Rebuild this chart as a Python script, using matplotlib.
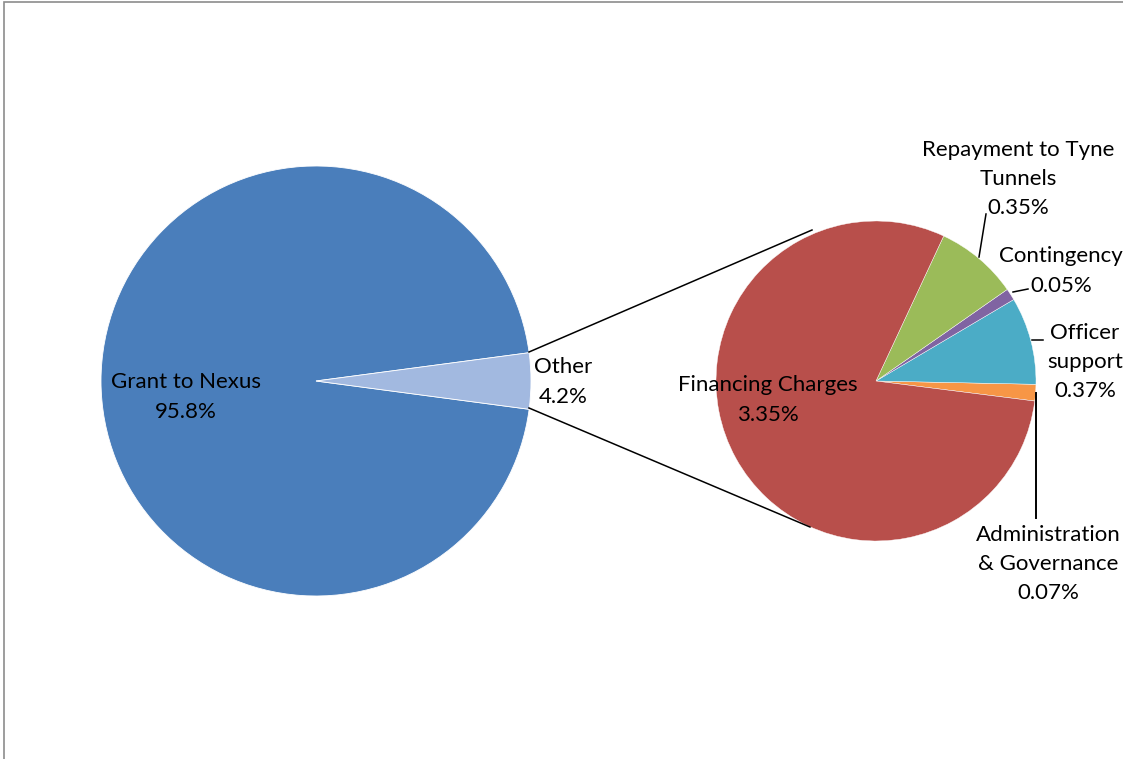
import matplotlib
matplotlib.use("Agg")
import matplotlib.pyplot as plt
from matplotlib.patches import Rectangle

# Data
main_labels = ["Grant to Nexus", "Other"]
main_values = [95.8, 4.2]
main_colors = ["#4A7EBB", "#A2B9E0"]

sub_labels = ["Administration\n& Governance", "Officer\nsupport", "Contingency",
              "Repayment to Tyne\nTunnels", "Financing Charges"]
sub_values = [0.07, 0.37, 0.05, 0.35, 3.35]
sub_colors = ["#F79646", "#4BACC6", "#8064A2", "#9BBB59", "#B84F4B"]

W, H = 1123, 759
fig = plt.figure(figsize=(W / 100, H / 100), dpi=100)
ax = fig.add_axes([0, 0, 1, 1])

FONT = ["Lato", "DejaVu Sans"]
FS = 16


def Y(y):
    return H - y


# Main pie
c1 = (316, Y(381))
r1 = 215
other_ang = 360 * main_values[1] / sum(main_values)
ax.pie(main_values, colors=main_colors, center=c1, radius=r1,
       startangle=other_ang / 2, counterclock=True,
       wedgeprops=dict(edgecolor="white", linewidth=0.6), frame=True)

# Sub pie
c2 = (876, Y(381))
r2 = 160
ax.pie(sub_values, colors=sub_colors, center=c2, radius=r2,
       startangle=-7.2, counterclock=True,
       wedgeprops=dict(edgecolor="white", linewidth=0.3), frame=True)
ax.set_xlim(0, W)
ax.set_ylim(0, H)
ax.set_aspect("equal")
ax.axis("off")

# Border
ax.add_patch(Rectangle((3.5, Y(1200)), 2000, 1200 - 1.5, fill=False,
                       edgecolor="#8c8c8c", linewidth=1.2))

# Connector lines
ax.plot([529, 812], [Y(352), Y(230)], color="black", lw=1.1)
ax.plot([529, 810], [Y(408), Y(527)], color="black", lw=1.1)

# Leader lines
ax.plot([979, 986], [Y(257), Y(214)], color="black", lw=1.1)
ax.plot([1013, 1028], [Y(292), Y(289)], color="black", lw=1.1)
ax.plot([1032, 1043], [Y(340), Y(340)], color="black", lw=1.1)
ax.plot([1036, 1036], [Y(393), Y(518)], color="black", lw=1.4)

tk = dict(family=FONT, fontsize=FS, color="black", linespacing=1.58)

ax.text(186, Y(397), f"{main_labels[0]}\n{main_values[0]}%", ha="center", va="center", **tk)
ax.text(563, Y(382), f"{main_labels[1]}\n{main_values[1]}%", ha="center", va="center", **tk)
ax.text(768, Y(400), f"{sub_labels[4]}\n{sub_values[4]:.2f}%", ha="center", va="center", **tk)
ax.text(1018, Y(179), f"{sub_labels[3]}\n{sub_values[3]:.2f}%", ha="center", va="center", **tk)
ax.text(1061, Y(271), f"{sub_labels[2]}\n{sub_values[2]:.2f}%", ha="center", va="center", **tk)
ax.text(1123, Y(362), f"{sub_labels[1]}\n{sub_values[1]:.2f}%", ha="right", va="center",
        multialignment="center", **tk)
ax.text(1048, Y(564), f"{sub_labels[0]}\n{sub_values[0]:.2f}%", ha="center", va="center", **tk)

fig.savefig("out.png", dpi=100)
